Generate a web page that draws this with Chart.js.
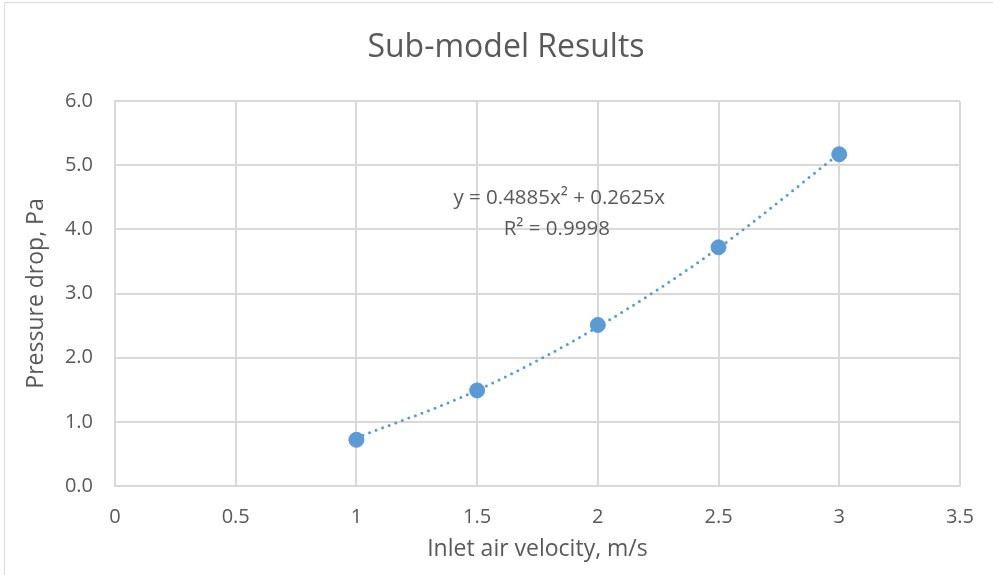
<!DOCTYPE html>
<html>
<head>
<meta charset="utf-8">
<script src="https://cdn.jsdelivr.net/npm/chart.js@4.4.1/dist/chart.umd.min.js"></script>
<style>
  html, body { margin: 0; padding: 0; background: #fff; }
  #wrap { width: 993px; height: 575px; position: relative; }
</style>
</head>
<body>
<div id="wrap"><canvas id="graficoPresion"></canvas></div>
<script>
// datos
const velocidades = [1, 1.5, 2, 2.5, 3];
const presiones = [0.72, 1.49, 2.51, 3.72, 5.17];
const tendencia = [0.75, 1.49, 2.48, 3.71, 5.18];
const ticksX = [0, 0.5, 1, 1.5, 2, 2.5, 3, 3.5];
const ticksY = [0, 1, 2, 3, 4, 5, 6];
const titulo = 'Sub-model Results';
const ecuacion = ['y = 0.4885x² + 0.2625x', 'R² = 0.9998'];

const gris = '#595959';
const azul = '#5b9bd5';
const rejilla = '#d9d9d9';
const fuente = '"Open Sans", sans-serif';

// marco, titulo y texto de la linea de tendencia
const extras = {
  id: 'extras',
  beforeDraw(chart) {
    const c = chart.ctx;
    c.save();
    c.strokeStyle = rejilla;
    c.lineWidth = 1;
    c.strokeRect(4.5, 2.5, 1100, 700);
    c.fillStyle = gris;
    c.font = '32px ' + fuente;
    c.textAlign = 'center';
    c.textBaseline = 'middle';
    c.fillText(titulo, 506, 47.5);
    c.restore();
  },
  afterDatasetsDraw(chart) {
    const c = chart.ctx;
    const x = chart.scales.x;
    const y = chart.scales.y;
    c.save();
    c.fillStyle = gris;
    c.font = '20.5px ' + fuente;
    c.textAlign = 'center';
    c.textBaseline = 'middle';
    c.fillText(ecuacion[0], x.getPixelForValue(1.84), y.getPixelForValue(4.48));
    c.fillText(ecuacion[1], x.getPixelForValue(1.83), y.getPixelForValue(4.0));
    c.restore();
  }
};

const ctx = document.getElementById('graficoPresion').getContext('2d');
window.chartPresion = new Chart(ctx, {
  type: 'scatter',
  data: {
    datasets: [{
      data: velocidades.map((v, i) => ({ x: v, y: tendencia[i] })),
      showLine: true,
      borderColor: azul,
      borderWidth: 3,
      borderDash: [0, 7],
      borderCapStyle: 'round',
      cubicInterpolationMode: 'monotone',
      pointRadius: 0,
      order: 2
    }, {
      data: velocidades.map((v, i) => ({ x: v, y: presiones[i] })),
      backgroundColor: azul,
      borderColor: azul,
      pointRadius: 7.5,
      pointHoverRadius: 7.5,
      order: 1
    }]
  },
  options: {
    responsive: true,
    maintainAspectRatio: false,
    animation: false,
    layout: { padding: { left: 0, right: 31, top: 101, bottom: 0 } },
    plugins: {
      legend: { display: false },
      tooltip: { enabled: false },
      title: { display: false }
    },
    scales: {
      x: {
        type: 'linear',
        min: 0,
        max: 3.5,
        afterBuildTicks: s => { s.ticks = ticksX.map(v => ({ value: v })); },
        afterFit: s => { s.height = 89; },
        grid: { color: rejilla, lineWidth: 2, drawTicks: false },
        border: { color: rejilla, width: 2 },
        ticks: {
          color: gris,
          padding: 19,
          font: { family: fuente, size: 20 },
          callback: v => String(v)
        },
        title: {
          display: true,
          text: 'Inlet air velocity, m/s',
          color: gris,
          font: { family: fuente, size: 23 },
          padding: { top: 0, bottom: 12 }
        }
      },
      y: {
        min: 0,
        max: 6,
        afterBuildTicks: s => { s.ticks = ticksY.map(v => ({ value: v })); },
        afterFit: s => { s.width = 115; },
        grid: { color: rejilla, lineWidth: 2, drawTicks: false },
        border: { color: rejilla, width: 2 },
        ticks: {
          color: gris,
          padding: 22,
          font: { family: fuente, size: 20 },
          callback: v => v.toFixed(1)
        },
        title: {
          display: true,
          text: 'Pressure drop, Pa',
          color: gris,
          font: { family: fuente, size: 23 },
          padding: { top: 23, bottom: 0 }
        }
      }
    }
  },
  plugins: [extras]
});
</script>
</body>
</html>
